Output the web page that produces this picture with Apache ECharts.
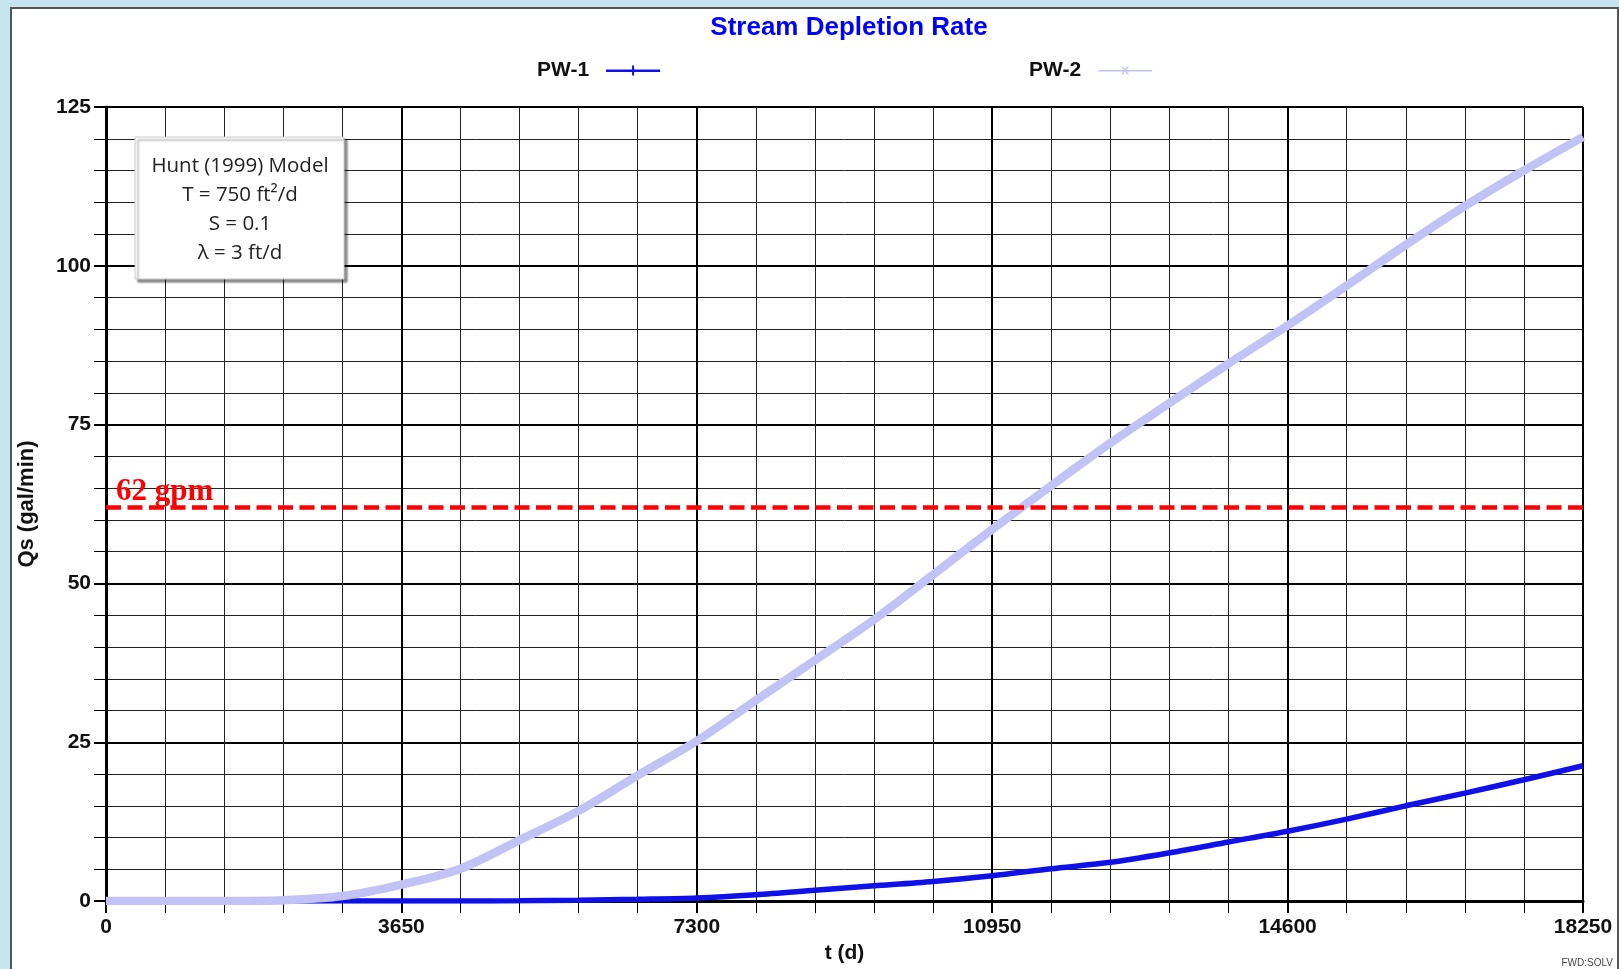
<!DOCTYPE html>
<html>
<head>
<meta charset="utf-8">
<title>Stream Depletion Rate</title>
<script src="https://cdn.jsdelivr.net/npm/echarts@6/dist/echarts.min.js"></script>
<style>
  html, body { margin: 0; padding: 0; background: #c6e4ee; overflow: hidden; }
  .panel { position: absolute; left: 10px; top: 7px; width: 1605px; height: 975px; background: #fff; border: 2px solid #555; }
  #chart { position: absolute; left: 0; top: 0; width: 1619px; height: 969px; }
</style>
</head>
<body>
<div class="panel"></div>
<div id="chart"></div>
<script>
  // time (d)
  var tDays = [0, 730, 1460, 2190, 2920, 3650, 4380, 5110, 5840, 6570, 7300, 8030, 8760,
    9490, 10220, 10950, 11680, 12410, 13140, 13870, 14600, 15330, 16060, 16790, 17520, 18250]
  // Qs (gal/min)
  var pw1 = [0, 0, 0, 0, 0, 0.005, 0.01, 0.05, 0.15, 0.3, 0.5, 1.0, 1.7,
    2.4, 3.1, 4.0, 5.1, 6.1, 7.6, 9.3, 11.0, 12.9, 15.0, 17.0, 19.1, 21.3]
  var pw2 = [0, 0, 0.02, 0.15, 0.8, 2.6, 5.1, 9.6, 14.2, 19.8, 25.2, 31.6, 37.9,
    44.3, 51.4, 58.5, 65.4, 72.1, 78.4, 84.6, 90.6, 96.9, 103.3, 109.4, 115.0, 120.3]
  var limitQs = 62
  var seriesNames = ['PW-1', 'PW-2']
  var noteLines = ['Hunt (1999) Model', 'T = 750 ft²/d', 'S = 0.1', 'λ = 3 ft/d']

  var chart = echarts.init(document.getElementById('chart'))
  var boldText = { fontFamily: 'Arial, "Liberation Sans"', fontWeight: 'bold', fontSize: 21, color: '#111' }

  chart.setOption({
    animation: false,
    backgroundColor: 'transparent',
    title: {
      text: 'Stream Depletion Rate',
      left: 844, top: 10, textAlign: 'center',
      textStyle: { fontFamily: 'Arial, "Liberation Sans"', fontWeight: 'bold', fontSize: 26, color: '#0000ff' }
    },
    legend: {
      left: 532, top: 55,
      align: 'right',
      itemWidth: 54, itemHeight: 12, itemGap: 369,
      textStyle: Object.assign({}, boldText, { padding: [0, 12, 0, 0] }),
      data: [
        { name: seriesNames[0], icon: 'path://M0,5 L54,5 L54,7.5 L0,7.5 Z M26,1 L28,1 L28,11 L26,11 Z' },
        { name: seriesNames[1], icon: 'path://M0,5.6 L54,5.6 L54,7 L0,7 Z M23,2 L24.6,2 L31,10 L29.4,10 Z M29.4,2 L31,2 L24.6,10 L23,10 Z' }
      ]
    },
    grid: { left: 106, right: 36, top: 107, bottom: 62 },
    xAxis: {
      type: 'value',
      min: 0, max: 18250, interval: 3650,
      name: 't (d)', nameLocation: 'middle', nameGap: 40,
      nameTextStyle: boldText,
      axisLine: { lineStyle: { color: '#000', width: 3 } },
      axisTick: { length: 12, lineStyle: { color: '#000', width: 2 } },
      minorTick: { show: true, splitNumber: 5, length: 12, lineStyle: { color: '#000', width: 1 } },
      axisLabel: Object.assign({ margin: 16, formatter: function (v) { return String(v) } }, boldText),
      splitLine: { lineStyle: { color: '#000', width: 2 } },
      minorSplitLine: { show: true, lineStyle: { color: '#222', width: 1 } }
    },
    yAxis: {
      type: 'value',
      min: 0, max: 125, interval: 25,
      name: 'Qs (gal/min)', nameLocation: 'middle', nameGap: 68,
      nameTextStyle: Object.assign({}, boldText, { fontSize: 22 }),
      axisLine: { lineStyle: { color: '#000', width: 3 } },
      axisTick: { length: 12, lineStyle: { color: '#000', width: 2 } },
      minorTick: { show: true, splitNumber: 5, length: 12, lineStyle: { color: '#000', width: 1 } },
      axisLabel: Object.assign({ margin: 15 }, boldText),
      splitLine: { lineStyle: { color: '#000', width: 2 } },
      minorSplitLine: { show: true, lineStyle: { color: '#222', width: 1 } }
    },
    series: [
      {
        name: seriesNames[0],
        type: 'line',
        color: '#1010e8',
        showSymbol: false,
        smooth: 0.3,
        lineStyle: { width: 5.5, color: '#1010e8' },
        data: tDays.map(function (t, i) { return [t, pw1[i]] })
      },
      {
        name: seriesNames[1],
        type: 'line',
        color: '#c2c2f6',
        showSymbol: false,
        smooth: 0.3,
        lineStyle: { width: 8.5, color: '#c2c2f6' },
        data: tDays.map(function (t, i) { return [t, pw2[i]] }),
        markLine: {
          silent: true,
          symbol: 'none',
          lineStyle: { color: '#ff0000', width: 4.5, type: [15, 6.5] },
          label: {
            position: 'insideStartTop',
            formatter: limitQs + ' gpm',
            color: '#ff0000',
            fontFamily: '"Liberation Serif", "Times New Roman", serif',
            fontWeight: 'bold',
            fontSize: 31,
            distance: [10, 0]
          },
          data: [{ yAxis: limitQs }]
        }
      }
    ],
    graphic: [
      {
        type: 'rect', z: 100,
        shape: { x: 135, y: 137, width: 209, height: 142 },
        style: { fill: '#fff', stroke: '#c8c8c8', lineWidth: 1, shadowColor: 'rgba(0,0,0,0.45)', shadowOffsetX: 3, shadowOffsetY: 3, shadowBlur: 2 }
      },
      {
        type: 'text', z: 101,
        style: {
          text: noteLines.join('\n'),
          x: 240, y: 210,
          align: 'center', verticalAlign: 'middle',
          font: '20.5px "Open Sans", "Noto Sans", sans-serif',
          lineHeight: 29,
          fill: '#222'
        }
      },
      {
        type: 'text', z: 101,
        style: {
          text: 'FWD:SOLV',
          x: 1613, y: 963,
          align: 'right', verticalAlign: 'middle',
          font: '10px Arial, "Liberation Sans"',
          fill: '#444'
        }
      }
    ]
  })
</script>
</body>
</html>
